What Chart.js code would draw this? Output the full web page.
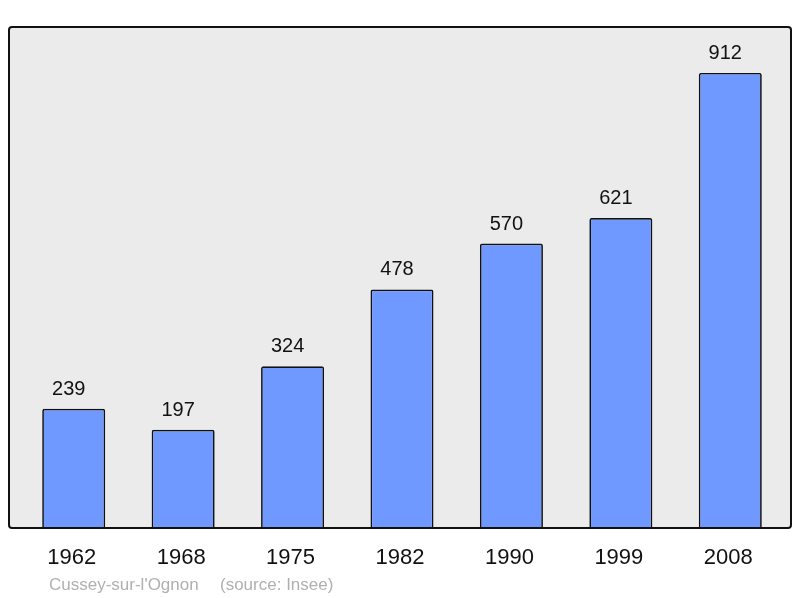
<!DOCTYPE html>
<html>
<head>
<meta charset="utf-8">
<script src="https://cdn.jsdelivr.net/npm/chart.js@4/dist/chart.umd.min.js"></script>
<style>
  html, body { margin: 0; padding: 0; background: #fff; }
  #wrap { width: 800px; height: 598px; position: relative; }
</style>
</head>
<body>
<div id="wrap"><canvas id="popChart" width="800" height="598"></canvas></div>
<script>
const years = ['1962', '1968', '1975', '1982', '1990', '1999', '2008'];
const population = [239, 197, 324, 478, 570, 621, 912];
const yMax = 1004;

// gray frame behind the plot
const frame = {
  id: 'frame',
  beforeDraw(chart) {
    const ctx = chart.ctx;
    const x0 = 9, y0 = 27, x1 = 791, y1 = 528;
    ctx.save();
    ctx.beginPath();
    ctx.roundRect(x0, y0, x1 - x0, y1 - y0, 3);
    ctx.fillStyle = '#ebebeb';
    ctx.fill();
    ctx.restore();
  },
  afterDatasetsDraw(chart) {
    const ctx = chart.ctx;
    const x0 = 9, y0 = 27, x1 = 791, y1 = 528;
    ctx.save();
    ctx.beginPath();
    ctx.roundRect(x0, y0, x1 - x0, y1 - y0, 3);
    ctx.lineWidth = 2;
    ctx.strokeStyle = '#111';
    ctx.stroke();

    // values above bars
    const meta = chart.getDatasetMeta(0);
    ctx.fillStyle = '#111';
    ctx.font = '20px "Liberation Sans", Arial, sans-serif';
    ctx.textAlign = 'center';
    ctx.textBaseline = 'alphabetic';
    meta.data.forEach((bar, i) => {
      ctx.fillText(population[i], bar.x - 5, bar.y - 14);
    });

    // footer
    ctx.fillStyle = '#b0b0b0';
    ctx.font = '17px "Liberation Sans", Arial, sans-serif';
    ctx.textAlign = 'left';
    ctx.fillText("Cussey-sur-l'Ognon", 49, 590);
    ctx.fillText('(source: Insee)', 220, 590);
    ctx.restore();
  }
};

new Chart(document.getElementById('popChart'), {
  type: 'bar',
  data: {
    labels: years,
    datasets: [{
      data: population,
      backgroundColor: 'rgb(112,153,255)',
      borderColor: '#111',
      borderWidth: 1.7,
      borderRadius: 2,
      barPercentage: 0.576,
      categoryPercentage: 1
    }]
  },
  plugins: [frame],
  options: {
    responsive: false,
    animation: false,
    layout: { padding: { left: 19, right: 15, top: 27, bottom: 0 } },
    plugins: {
      legend: { display: false },
      tooltip: { enabled: false }
    },
    scales: {
      x: {
        grid: { display: false, drawTicks: false },
        border: { display: false },
        ticks: {
          color: '#111',
          font: { size: 22, family: '"Liberation Sans", Arial, sans-serif' },
          padding: 17,
          labelOffset: -2,
          maxRotation: 0
        },
        afterFit(scale) { scale.height = 70; }
      },
      y: {
        display: false,
        min: 0,
        max: yMax
      }
    }
  }
});
</script>
</body>
</html>
